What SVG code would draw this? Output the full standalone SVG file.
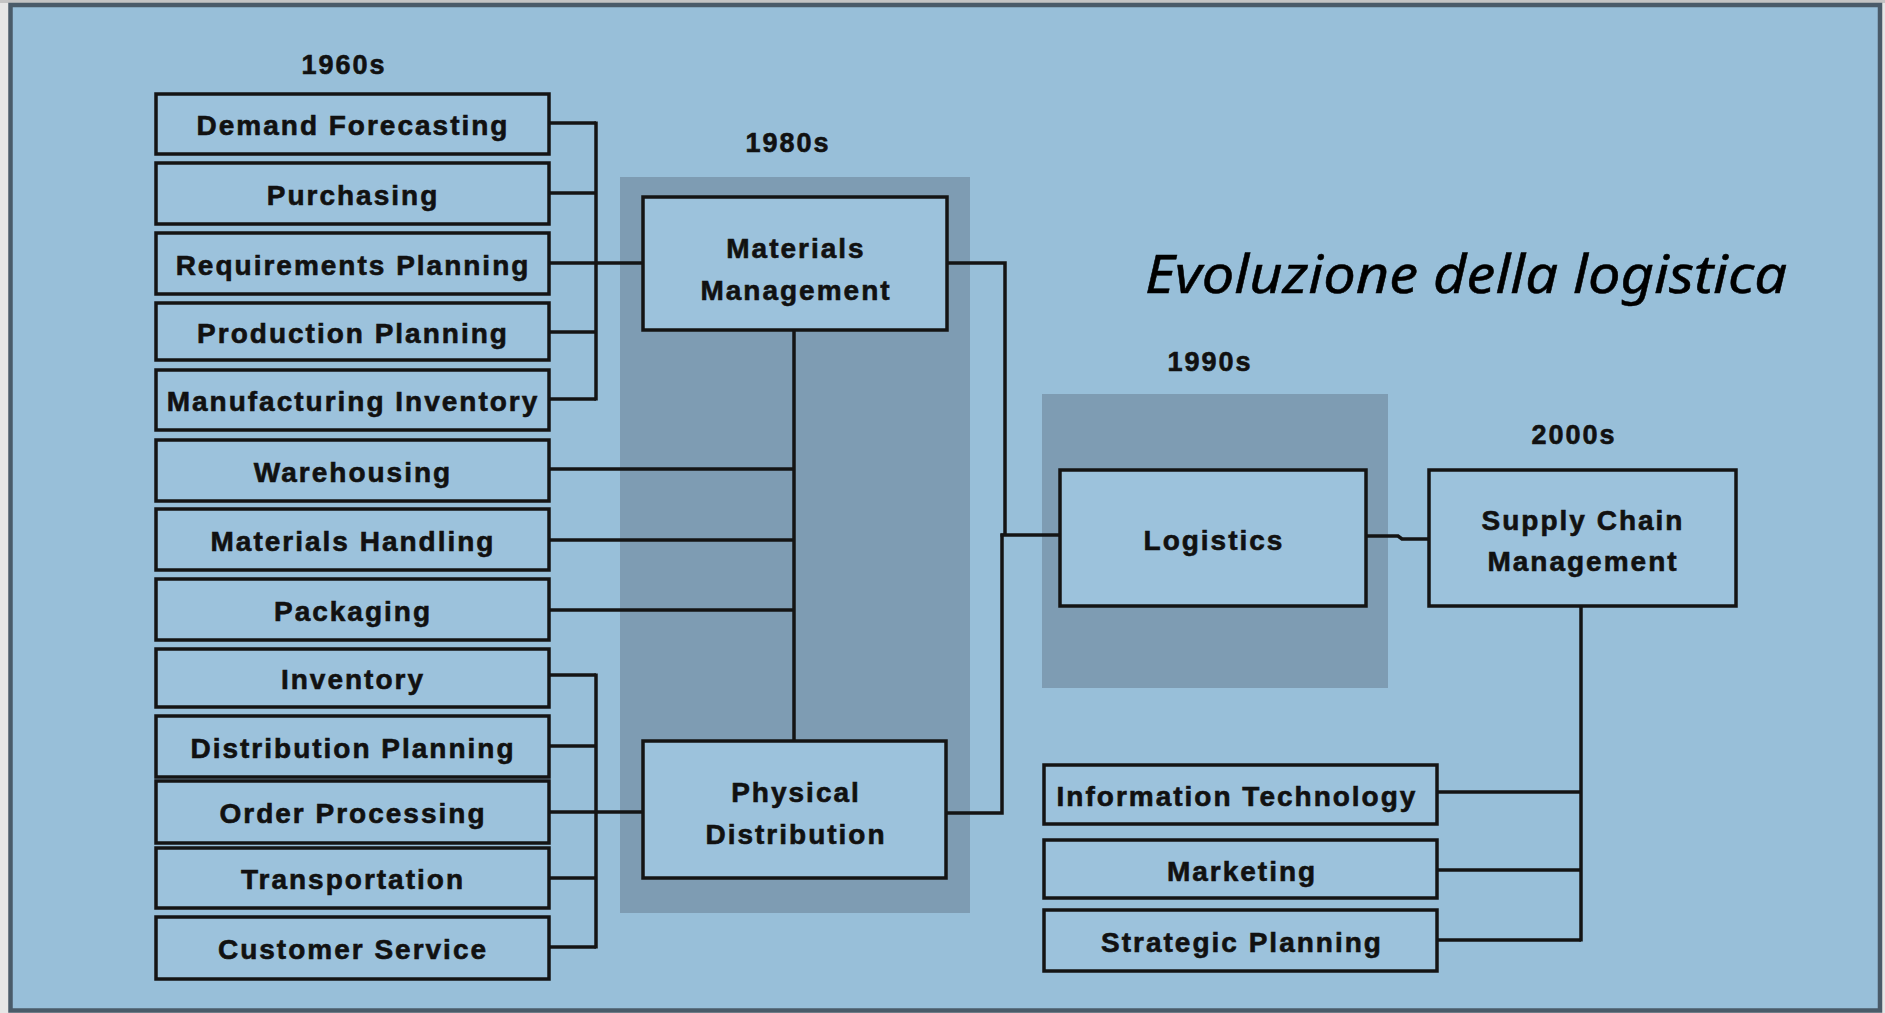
<svg xmlns="http://www.w3.org/2000/svg" width="1885" height="1013" viewBox="0 0 1885 1013">
<style>
.box{fill:#9CC2DC;stroke:#141414;stroke-width:3.5}
.lbl{font-family:"Liberation Sans",Arial,sans-serif;font-weight:bold;font-size:28px;letter-spacing:2px;fill:#111;stroke:#111;stroke-width:0.6;text-anchor:middle}
.yr{font-family:"Liberation Sans",Arial,sans-serif;font-weight:bold;font-size:27px;letter-spacing:2px;fill:#111;stroke:#111;stroke-width:0.6;text-anchor:middle}
.shade{fill:#7E9CB3}
.conn line,.conn path{stroke:#141414;stroke-width:3.5;fill:none}
</style>
<rect x="0" y="0" width="1885" height="1013" fill="#e6e6e6"/>
<rect x="0" y="0" width="1885" height="3" fill="#c4c4c4"/>
<rect x="10.5" y="5" width="1869.5" height="1005.5" fill="#98BFD9" stroke="#4a5b69" stroke-width="4.5"/>
<rect class="shade" x="620" y="177" width="350" height="736"/>
<rect class="shade" x="1042" y="394" width="346" height="294"/>
<text class="yr" x="344" y="74">1960s</text>
<text class="yr" x="788" y="152">1980s</text>
<text class="yr" x="1210" y="371">1990s</text>
<text class="yr" x="1574" y="444">2000s</text>
<text x="1145" y="293" font-family="'Noto Sans','Open Sans',sans-serif" font-style="italic" font-size="52" fill="#000" stroke="#000" stroke-width="0.5" textLength="642" lengthAdjust="spacingAndGlyphs">Evoluzione della logistica</text>
<g class="conn" id="connectors">
<line x1="549" y1="123" x2="596" y2="123"/>
<line x1="549" y1="193" x2="596" y2="193"/>
<line x1="549" y1="263" x2="643" y2="263"/>
<line x1="549" y1="332" x2="596" y2="332"/>
<line x1="549" y1="399" x2="596" y2="399"/>
<line x1="596" y1="121.5" x2="596" y2="400.5"/>
<line x1="549" y1="469" x2="794" y2="469"/>
<line x1="549" y1="540" x2="794" y2="540"/>
<line x1="549" y1="610" x2="794" y2="610"/>
<line x1="794" y1="330" x2="794" y2="741"/>
<line x1="549" y1="675" x2="596" y2="675"/>
<line x1="549" y1="746" x2="596" y2="746"/>
<line x1="549" y1="812" x2="643" y2="812"/>
<line x1="549" y1="878" x2="596" y2="878"/>
<line x1="549" y1="947" x2="596" y2="947"/>
<line x1="596" y1="673.5" x2="596" y2="948.5"/>
<path d="M947 263 H1005 V535"/>
<path d="M1000.5 535 H1060"/>
<path d="M946 813 H1002 V533.5"/>
<path d="M1366 536 H1398 L1402 539 H1429"/>
<path d="M1581 606 V941.5"/>
<line x1="1437" y1="792" x2="1581" y2="792"/>
<line x1="1437" y1="870" x2="1581" y2="870"/>
<line x1="1437" y1="940" x2="1581" y2="940"/>
</g>
<g id="n-demand"><rect class="box" x="156" y="94" width="393" height="60"/><text class="lbl" x="353" y="135">Demand Forecasting</text></g>
<g id="n-purchasing"><rect class="box" x="156" y="163" width="393" height="61"/><text class="lbl" x="353" y="205">Purchasing</text></g>
<g id="n-requirements"><rect class="box" x="156" y="233" width="393" height="61"/><text class="lbl" x="353" y="275">Requirements Planning</text></g>
<g id="n-production"><rect class="box" x="156" y="303" width="393" height="57"/><text class="lbl" x="353" y="343">Production Planning</text></g>
<g id="n-manufacturing"><rect class="box" x="156" y="370" width="393" height="60"/><text class="lbl" x="353" y="411">Manufacturing Inventory</text></g>
<g id="n-warehousing"><rect class="box" x="156" y="440" width="393" height="61"/><text class="lbl" x="353" y="482">Warehousing</text></g>
<g id="n-handling"><rect class="box" x="156" y="509" width="393" height="61"/><text class="lbl" x="353" y="551">Materials Handling</text></g>
<g id="n-packaging"><rect class="box" x="156" y="579" width="393" height="61"/><text class="lbl" x="353" y="621">Packaging</text></g>
<g id="n-inventory"><rect class="box" x="156" y="649" width="393" height="58"/><text class="lbl" x="353" y="689">Inventory</text></g>
<g id="n-distplanning"><rect class="box" x="156" y="716" width="393" height="61"/><text class="lbl" x="353" y="758">Distribution Planning</text></g>
<g id="n-order"><rect class="box" x="156" y="781" width="393" height="62"/><text class="lbl" x="353" y="823">Order Processing</text></g>
<g id="n-transport"><rect class="box" x="156" y="848" width="393" height="60"/><text class="lbl" x="353" y="889">Transportation</text></g>
<g id="n-customer"><rect class="box" x="156" y="917" width="393" height="62"/><text class="lbl" x="353" y="959">Customer Service</text></g>
<g id="n-materials-mgmt"><rect class="box" x="643" y="197" width="304" height="133"/><text class="lbl" x="796" y="258">Materials</text><text class="lbl" x="796" y="300">Management</text></g>
<g id="n-physical-dist"><rect class="box" x="643" y="741" width="303" height="137"/><text class="lbl" x="796" y="802">Physical</text><text class="lbl" x="796" y="844">Distribution</text></g>
<g id="n-logistics"><rect class="box" x="1060" y="470" width="306" height="136"/><text class="lbl" x="1214" y="550">Logistics</text></g>
<g id="n-scm"><rect class="box" x="1429" y="470" width="307" height="136"/><text class="lbl" x="1583" y="530">Supply Chain</text><text class="lbl" x="1583" y="571">Management</text></g>
<g id="n-it"><rect class="box" x="1044" y="765" width="393" height="59"/><text class="lbl" x="1237" y="806">Information Technology</text></g>
<g id="n-marketing"><rect class="box" x="1044" y="840" width="393" height="58"/><text class="lbl" x="1242" y="881">Marketing</text></g>
<g id="n-strategic"><rect class="box" x="1044" y="910" width="393" height="61"/><text class="lbl" x="1242" y="952">Strategic Planning</text></g>
</svg>
